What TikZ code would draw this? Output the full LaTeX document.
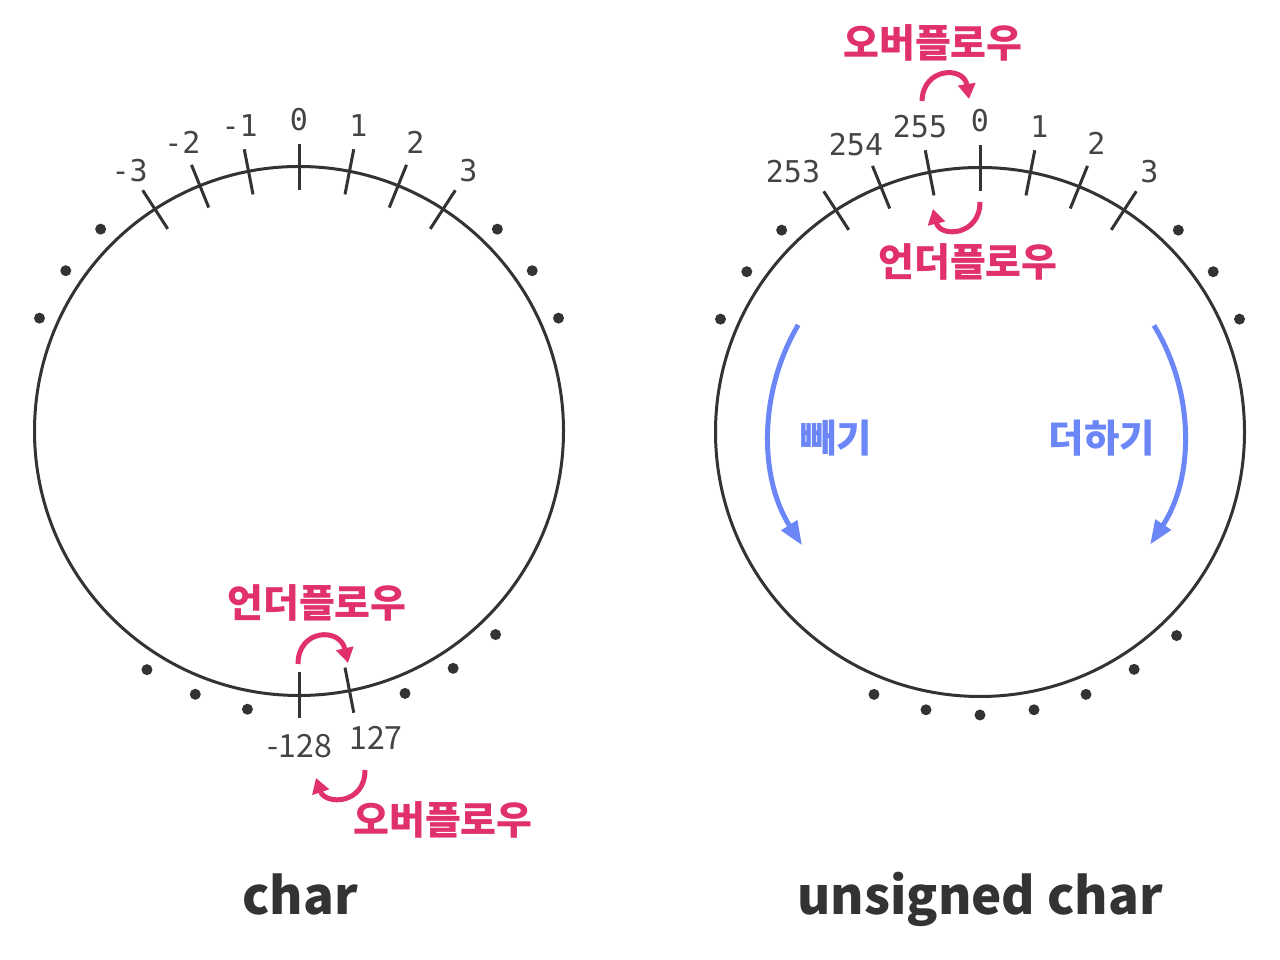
\documentclass[tikz,border=0pt]{standalone}
\usepackage{fontspec}
\setmainfont{Noto Sans CJK KR}
\newfontfamily\krfont{Noto Sans CJK KR}
\newfontfamily\monofont{DejaVu Sans Mono}
\usetikzlibrary{arrows.meta,calc}
\definecolor{ink}{HTML}{333333}
\definecolor{numc}{HTML}{444444}
\definecolor{pinkc}{HTML}{E0306E}
\definecolor{bluec}{HTML}{6B87F7}
\tikzset{
  ring/.style={circle,draw=ink,line width=3pt,minimum size=529pt,inner sep=0pt},
  tickmark/.style={draw=ink,line width=3pt},
  num/.style={text=numc,font=\monofont\fontsize{30}{34}\selectfont,inner sep=0pt},
  numb/.style={text=numc,font=\krfont\fontsize{32}{36}\selectfont,inner sep=0pt},
  dotc/.style={fill=ink},
  pinkarrow/.style={draw=pinkc,line width=5pt,-{Triangle[length=15pt,width=17pt]}},
  pinklabel/.style={text=pinkc,font=\krfont\bfseries\fontsize{39}{42}\selectfont,inner sep=0pt},
  bluearrow/.style={draw=bluec,line width=5pt,-{Triangle[length=24pt,width=18pt]}},
  bluelabel/.style={text=bluec,font=\krfont\bfseries\fontsize{38.5}{42}\selectfont,inner sep=0pt},
  title/.style={text=ink,font=\krfont\bfseries\fontsize{51}{56}\selectfont,inner sep=0pt,anchor=base}
}
\begin{document}
\begin{tikzpicture}[x=1pt,y=1pt]
\useasboundingbox (0,0) rectangle (1280,960);
% ---------- left circle (char) ----------
\node[ring] (L) at (299,529) {};
\foreach \a in {57,68,79,90,101,112,123,270,281}
  \draw[tickmark] ($(L.center)+(\a:241)$) -- ($(L.center)+(\a:287)$);
\foreach \a/\t/\n in {90/0/l0,79/1/l1,68/2/l2,57/3/l3,101/-1/lm1,112/-2/lm2,123/-3/lm3}
  \node[num] (\n) at ($(L.center)+(\a:311)$) {\t};
\foreach \a in {45.5,34.5,23.5,134.5,145.5,156.5,237.5,248.5,259.5,292,303,314}
  \fill[dotc] ($(L.center)+(\a:283)$) circle[radius=5.5];
\node[numb] (l128) at (300,214) {-128};
\node[numb] (l127) at (376,222) {127};
% underflow arrow
\coordinate (lu1) at (298,296);
\coordinate (lu2) at (348,297);
\draw[pinkarrow] (lu1) .. controls (298,331) and (340,333) .. (lu2);
\node[pinklabel] (lul) at (317,357) {언더플로우};
% overflow arrow
\coordinate (lo1) at (365,190);
\coordinate (lo2) at (316,182);
\draw[pinkarrow] (lo1) .. controls (365,155) and (325,155) .. (lo2);
\node[pinklabel] (lol) at (443,140) {오버플로우};
\node[title] (lt) at (300,45) {char};
% ---------- right circle (unsigned char) ----------
\node[ring] (R) at (980,528) {};
\foreach \a in {57,68,79,90,101,112,123}
  \draw[tickmark] ($(R.center)+(\a:241)$) -- ($(R.center)+(\a:287)$);
\foreach \a/\t/\n in {90/0/r0,79/1/r1,68/2/r2,57/3/r3}
  \node[num] (\n) at ($(R.center)+(\a:311)$) {\t};
\node[num] (r255) at (920,833) {255};
\node[num] (r254) at (856,815) {254};
\node[num] (r253) at (793,788) {253};
\foreach \a in {45.5,34.5,23.5,134.5,145.5,156.5,248,259,270,281,292,303,314}
  \fill[dotc] ($(R.center)+(\a:283)$) circle[radius=5.5];
% overflow arrow top
\coordinate (ro1) at (922,859);
\coordinate (ro2) at (969,861);
\draw[pinkarrow] (ro1) .. controls (923,893) and (964,894) .. (ro2);
\node[pinklabel] (rol) at (933,917) {오버플로우};
% underflow arrow
\coordinate (ru1) at (980,758);
\coordinate (ru2) at (933,751);
\draw[pinkarrow] (ru1) .. controls (980,724) and (940,722) .. (ru2);
\node[pinklabel] (rul) at (968,698) {언더플로우};
% blue arrows
\coordinate (bl1) at ($(R.center)+(149.5:211)$);
\coordinate (br1) at ($(R.center)+(31.5:204)$);
\draw[bluearrow] (bl1) arc[start angle=149.5, end angle=212.5, radius=211];
\draw[bluearrow] (br1) arc[start angle=31.5, end angle=-33.5, radius=204];
\node[bluelabel] (sub) at (836,522) {빼기};
\node[bluelabel] (add) at (1102,522) {더하기};
\node[title] (rt) at (980,45) {unsigned char};
\end{tikzpicture}
\end{document}
